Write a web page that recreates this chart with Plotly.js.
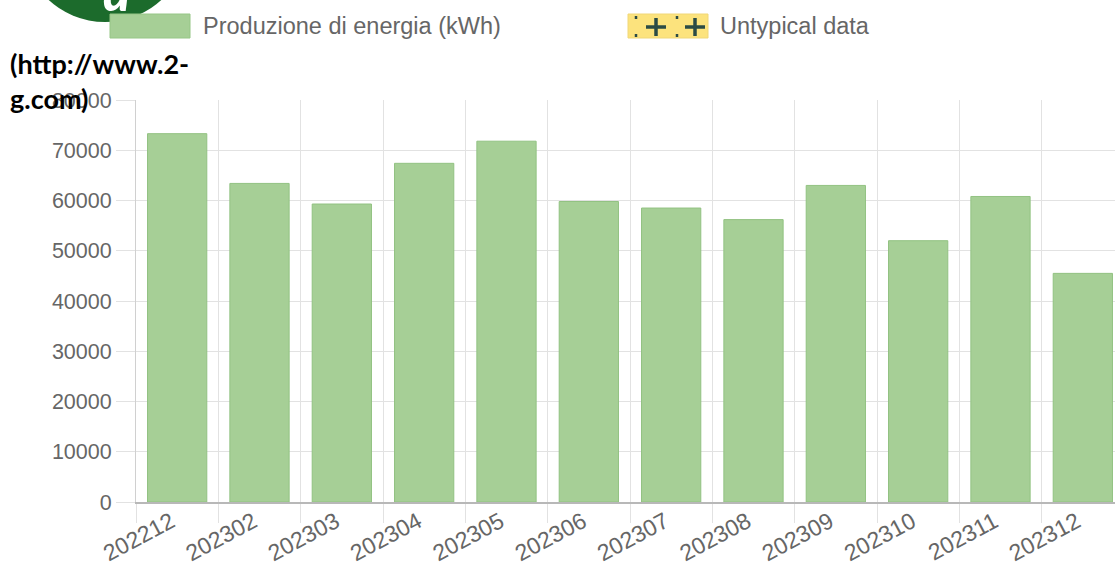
<!DOCTYPE html>
<html><head><meta charset="utf-8">
<script src="https://cdn.plot.ly/plotly-3.0.1.min.js"></script>
<style>html,body{margin:0;padding:0;overflow:hidden;background:#fff;width:1115px;height:562px}</style>
</head><body><div id="chart" style="width:1124px;height:562px"></div>
<script>
// ---- data ----
const months = ['202212','202302','202303','202304','202305','202306','202307','202308','202309','202310','202311','202312'];
const energy = [73300, 63400, 59300, 67400, 71800, 59800, 58500, 56200, 63000, 52000, 60800, 45500];
const seriesName = 'Produzione di energia (kWh)';
const untypicalName = 'Untypical data';
const siteLines = ['(http://www.2-', 'g.com)'];
const logoLetter = 'd';

// ---- geometry helpers (pixel -> paper) ----
const W = 1124, H = 562, ML = 136, MR = 0, MT = 100, MB = 60;
const PW = W - ML - MR, PH = H - MT - MB;
const px = x => (x - ML) / PW;
const py = y => (H - MB - y) / PH;

const gray = '#666666';
const grid = '#e2e2e2';
const font = 'Liberation Sans, Arial, sans-serif';

const shapes = [
  // logo circle
  {type:'circle', xref:'paper', yref:'paper', x0:px(22), x1:px(188), y0:py(22), y1:py(-144),
   fillcolor:'#1c6b2c', line:{width:0}},
  // legend: green box
  {type:'rect', xref:'paper', yref:'paper', x0:px(110), x1:px(190), y0:py(38), y1:py(14),
   fillcolor:'rgb(166,207,150)', line:{color:'rgb(150,198,134)', width:1}},
  // legend: yellow box
  {type:'rect', xref:'paper', yref:'paper', x0:px(628), x1:px(708), y0:py(38), y1:py(14),
   fillcolor:'rgb(252,227,125)', line:{color:'rgb(240,215,120)', width:1}}
];
const crossColor = '#2b4b45';
[656, 695].forEach(cx => {
  shapes.push({type:'line', xref:'paper', yref:'paper', x0:px(cx-10), x1:px(cx+10), y0:py(27), y1:py(27), line:{color:crossColor, width:3.5}});
  shapes.push({type:'line', xref:'paper', yref:'paper', x0:px(cx), x1:px(cx), y0:py(18), y1:py(36), line:{color:crossColor, width:3.5}});
});
[636, 677].forEach(cx => {
  shapes.push({type:'line', xref:'paper', yref:'paper', x0:px(cx), x1:px(cx), y0:py(16), y1:py(19), line:{color:crossColor, width:2.5}});
  shapes.push({type:'line', xref:'paper', yref:'paper', x0:px(cx), x1:px(cx), y0:py(34), y1:py(37), line:{color:crossColor, width:2.5}});
});

const annotations = [
  {text:seriesName, xref:'paper', yref:'paper', x:px(201), y:py(26), xanchor:'left', yanchor:'middle', showarrow:false,
   font:{family:font, size:23.5, color:gray}},
  {text:untypicalName, xref:'paper', yref:'paper', x:px(718), y:py(26), xanchor:'left', yanchor:'middle', showarrow:false,
   font:{family:font, size:23.5, color:gray}},
  {text:siteLines[0], xref:'paper', yref:'paper', x:px(8), y:py(64), xanchor:'left', yanchor:'middle', showarrow:false,
   font:{family:'Lato, sans-serif', size:27, color:'#000', weight:700}},
  {text:siteLines[1], xref:'paper', yref:'paper', x:px(8), y:py(99), xanchor:'left', yanchor:'middle', showarrow:false,
   font:{family:'Lato, sans-serif', size:27, color:'#000', weight:700}},
  {text:logoLetter, xref:'paper', yref:'paper', x:px(117), y:py(-8), xanchor:'center', yanchor:'middle', showarrow:false,
   font:{family:'Lato, sans-serif', size:50, color:'#fff', weight:900, style:'italic'}}
];

const trace = {
  type:'bar', x:months, y:energy, name:seriesName,
  marker:{color:'rgb(166,207,150)', line:{color:'rgb(146,194,130)', width:1}},
  hoverinfo:'skip'
};

const layout = {
  width:W, height:H,
  margin:{l:ML, r:MR, t:MT, b:MB, pad:0},
  paper_bgcolor:'#fff', plot_bgcolor:'#fff',
  showlegend:false,
  bargap:0.28,
  font:{family:font, color:gray, size:21},
  xaxis:{
    type:'category', tickson:'boundaries', showgrid:true, gridcolor:grid, gridwidth:1,
    ticks:'outside', ticklen:19, tickcolor:grid, tickwidth:1, tickangle:-28,
    ticklabelshift:-6, ticklabelstandoff:-4,
    tickfont:{family:font, size:23, color:gray},
    showline:true, linecolor:'#b8b8b8', linewidth:1.5, zeroline:false,
    range:[-0.5, 11.5], fixedrange:true
  },
  yaxis:{
    range:[0, 80000], dtick:10000, tickformat:'d', showgrid:true, gridcolor:grid, gridwidth:1,
    ticks:'outside', ticklen:19, tickcolor:grid, tickwidth:1,
    tickfont:{family:font, size:21.5, color:gray},
    showline:true, linecolor:'#d0d0d0', linewidth:1, zeroline:false, fixedrange:true
  },
  shapes:shapes,
  annotations:annotations
};

Plotly.newPlot('chart', [trace], layout, {staticPlot:true, displayModeBar:false});
</script></body></html>
